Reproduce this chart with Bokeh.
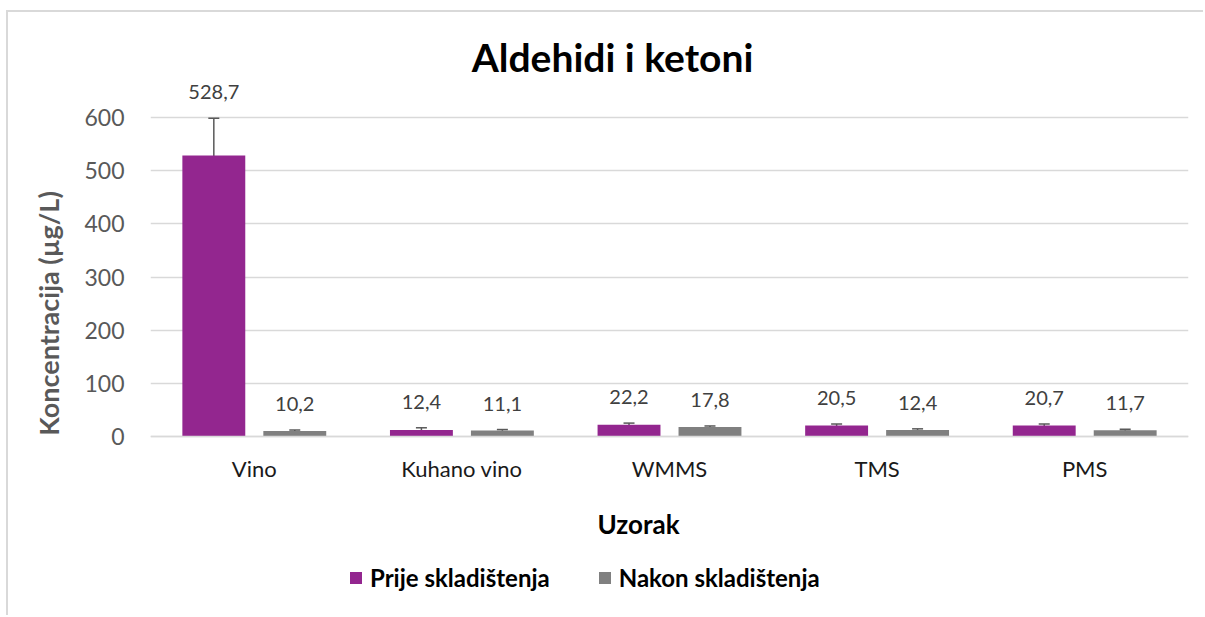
from bokeh.plotting import figure
from bokeh.models import (ColumnDataSource, FactorRange, Range1d, FixedTicker, Whisker,
                          TeeHead, Label, Legend, LegendItem)
from bokeh.transform import dodge
from bokeh.core.properties import value
from bokeh.embed import file_html
from bokeh.resources import INLINE

categories = ["Vino", "Kuhano vino", "WMMS", "TMS", "PMS"]
prije = [528.7, 12.4, 22.2, 20.5, 20.7]
nakon = [10.2, 11.1, 17.8, 12.4, 11.7]
prije_err = [70.0, 4.0, 3.0, 3.0, 3.0]
nakon_err = [2.0, 2.0, 2.0, 2.0, 2.0]
y_ticks = [0, 100, 200, 300, 400, 500, 600]

series_names = ["Prije skladištenja", "Nakon skladištenja"]
colors = ["#93268F", "#808080"]

FONT = "Lato"

def fmt(v):
    return f"{v:.1f}".replace(".", ",")

src = ColumnDataSource(dict(
    cat=categories,
    prije=prije, nakon=nakon,
    p_lo=[v - e for v, e in zip(prije, prije_err)],
    p_hi=[v + e for v, e in zip(prije, prije_err)],
    n_lo=[v - e for v, e in zip(nakon, nakon_err)],
    n_hi=[v + e for v, e in zip(nakon, nakon_err)],
    p_lab=[fmt(v) for v in prije],
    n_lab=[fmt(v) for v in nakon],
))

# Page layout in pixels. The figure sits inside a light chart border
# (left edge at x=6..8, top edge at y=10..12).
PAGE_W, PAGE_H = 1205, 617
OX, OY = 8, 12
W, H = PAGE_W - OX, PAGE_H - OY
FRAME_LEFT, FRAME_RIGHT = 150, 1188
FRAME_TOP, FRAME_BOTTOM = 14, 612
PX_ZERO, PX_TOP_TICK = 436, 117
k = (PX_ZERO - PX_TOP_TICK) / (y_ticks[-1] - y_ticks[0])
y_hi = y_ticks[-1] + (PX_TOP_TICK - FRAME_TOP) / k
y_lo = y_ticks[0] - (FRAME_BOTTOM - PX_ZERO) / k

p = figure(width=W, height=H, output_backend="svg", toolbar_location=None,
           x_range=FactorRange(factors=categories, range_padding=0),
           y_range=Range1d(y_lo, y_hi),
           min_border_left=FRAME_LEFT - OX, min_border_right=PAGE_W - FRAME_RIGHT,
           min_border_top=FRAME_TOP - OY, min_border_bottom=PAGE_H - FRAME_BOTTOM,
           title=None)
p.styles = {"border-left": "2px solid #d9d9d9", "border-top": "2px solid #d9d9d9",
            "margin-left": "6px", "margin-top": "10px"}
p.outline_line_color = None
p.background_fill_color = "white"
p.border_fill_color = "white"

off = 0.195
bw = 0.303
r1 = p.vbar(x=dodge("cat", -off, range=p.x_range), top="prije", width=bw, source=src,
            fill_color=colors[0], line_color=None)
r2 = p.vbar(x=dodge("cat", off, range=p.x_range), top="nakon", width=bw, source=src,
            fill_color=colors[1], line_color=None)

for o, lo, hi in [(-off, "p_lo", "p_hi"), (off, "n_lo", "n_hi")]:
    w = Whisker(base=dodge("cat", o, range=p.x_range), lower=lo, upper=hi, source=src,
                line_color="#595959", line_width=1.5,
                upper_head=TeeHead(size=11, line_color="#595959", line_width=1.5),
                lower_head=TeeHead(size=11, line_color="#595959", line_width=1.5))
    p.add_layout(w)

for o, hi, lab in [(-off, "p_hi", "p_lab"), (off, "n_hi", "n_lab")]:
    p.text(x=dodge("cat", o, range=p.x_range), y=hi, text=lab, source=src,
           text_align="center", text_baseline="middle", y_offset=-26,
           text_font=value(FONT), text_font_size="20px", text_color="#404040")

# axes
p.yaxis.ticker = FixedTicker(ticks=y_ticks)
for ax in (p.xaxis[0], p.yaxis[0]):
    ax.major_tick_line_color = None
    ax.minor_tick_line_color = None
    ax.major_label_text_font = FONT
    ax.major_label_text_color = "#595959"
    ax.axis_label_text_font = FONT
    ax.axis_label_text_font_style = "bold"
p.yaxis.axis_line_color = None
p.yaxis.major_label_text_font_size = "23px"
p.yaxis.major_label_standoff = 20
p.yaxis.axis_label = "Koncentracija (µg/L)"
p.yaxis.axis_label_text_font_size = "27px"
p.yaxis.axis_label_text_color = "#595959"
p.yaxis.axis_label_standoff = 16
p.xaxis.fixed_location = 0
p.xaxis.axis_line_color = "#d9d9d9"
p.xaxis.axis_line_width = 1.5
p.xaxis.major_label_text_font_size = "22px"
p.xaxis.major_label_text_color = "#1a1a1a"
p.xaxis.major_label_standoff = 12
p.xgrid.grid_line_color = None
p.ygrid.grid_line_color = "#d9d9d9"
p.ygrid.grid_line_width = 1.5

def frame_label(text, px_x, px_y, size, color="#000000"):
    # px_x / px_y: centre of the text in page pixels
    return Label(x=px_x - FRAME_LEFT, y=FRAME_BOTTOM - px_y, x_units="screen", y_units="screen",
                 text=text, text_align="center", text_baseline="middle",
                 text_font=FONT, text_font_style="bold", text_font_size=size,
                 text_color=color)

p.add_layout(frame_label("Aldehidi i ketoni", 612, 56, "39px"))
p.add_layout(frame_label("Uzorak", 638, 523, "26px"))

legend = Legend(items=[LegendItem(label=series_names[0], renderers=[r1]),
                       LegendItem(label=series_names[1], renderers=[r2])],
                location=(348 - FRAME_LEFT, 20), orientation="horizontal",
                glyph_width=15, glyph_height=15, label_standoff=7, spacing=47,
                padding=0, margin=0, border_line_color=None, background_fill_alpha=0,
                label_text_font=FONT, label_text_font_style="bold",
                label_text_font_size="24px", label_text_color="#000000")
p.add_layout(legend)

open("out.html", "w").write(file_html(p, INLINE))
